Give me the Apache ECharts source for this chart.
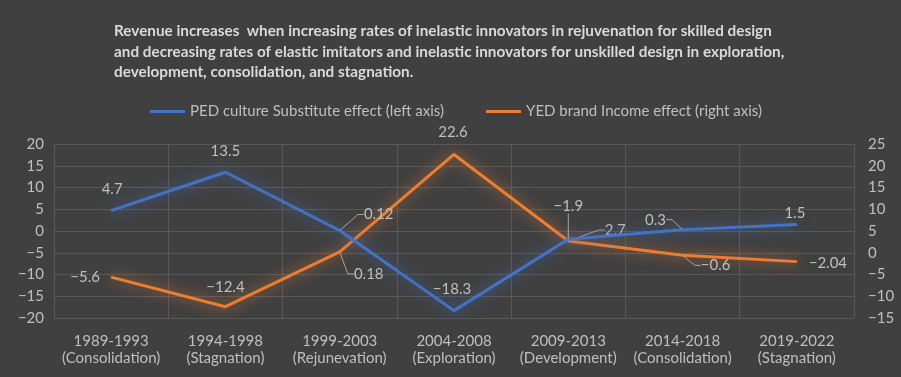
<!DOCTYPE html>
<html>
<head>
<meta charset="utf-8">
<script src="https://cdn.jsdelivr.net/npm/echarts@6/dist/echarts.min.js"></script>
<style>
html,body{margin:0;padding:0;background:#404040;}
#chart{width:901px;height:377px;}
</style>
</head>
<body>
<div id="chart"></div>
<script>
// ---- data ----
const categories = [
  "1989-1993\n(Consolidation)",
  "1994-1998\n(Stagnation)",
  "1999-2003\n(Rejunevation)",
  "2004-2008\n(Exploration)",
  "2009-2013\n(Development)",
  "2014-2018\n(Consolidation)",
  "2019-2022\n(Stagnation)"
];
const pedName = "PED culture Substitute effect (left axis)";
const yedName = "YED brand Income effect (right axis)";
const pedValues = [4.7, 13.5, 0.12, -18.3, -1.9, 0.3, 1.5];
const yedValues = [-5.6, -12.4, 0.18, 22.6, 2.7, -0.6, -2.04];
const leftTicks = { min: -20, max: 20, interval: 5 };
const rightTicks = { min: -15, max: 25, interval: 5 };
const titleLines = [
  "Revenue increases  when increasing rates of inelastic innovators in rejuvenation for skilled design",
  "and decreasing rates of elastic imitators and inelastic innovators for unskilled design in exploration,",
  "development, consolidation, and stagnation."
];

// ---- label placement (offset from point, and whether a leader line is drawn) ----
const pedLabelOffsets = [[1,-21],[0,-21],[39,-16],[-2,-21],[0,-33],[-27,-10],[-2,-11]];
const yedLabelOffsets = [[-26,0],[0,-20],[29,22],[-1,-22],[47,-11],[33,10],[31,2]];
const pedLeader = [false,false,true,false,true,true,false];
const yedLeader = [false,false,true,false,true,true,false];

const FONT = "Lato, 'Open Sans', sans-serif";
const TXT = "#bfbfbf";
const minus = v => String(v).replace('-', '\u2212');

function makeData(values, leaders) {
  return values.map((v, i) => ({
    value: v,
    labelLine: { show: leaders[i], length2: 6, lineStyle: { color: '#a6a6a6', width: 1 } }
  }));
}
let chart;
function layoutFn(seriesIndex, values, offsets) {
  return function (p) {
    const i = p.dataIndex;
    const o = offsets[i];
    const pt = chart.convertToPixel({ seriesIndex: seriesIndex }, [i, values[i]]);
    return { x: pt[0] + o[0], y: pt[1] + o[1], align: 'center', verticalAlign: 'middle' };
  };
}
const labelCfg = {
  show: true, position: 'top', color: TXT, fontSize: 15, fontFamily: FONT,
  formatter: p => minus(p.value)
};

chart = echarts.init(document.getElementById('chart'), null, { renderer: 'canvas' });
chart.setOption({
  backgroundColor: '#404040',
  animation: false,
  title: {
    text: titleLines.join('\n'),
    left: 109, top: 16,
    textStyle: { color: '#d9d9d9', fontSize: 15.3, fontWeight: 'bold', fontFamily: FONT, lineHeight: 20.5 }
  },
  legend: {
    top: 99, left: 145, itemGap: 42,
    icon: 'rect', itemWidth: 35, itemHeight: 3,
    textStyle: { color: TXT, fontSize: 15, fontFamily: FONT },
    data: [pedName, yedName]
  },
  grid: { left: 54, right: 47, top: 144, bottom: 59, containLabel: false },
  xAxis: {
    type: 'category', data: categories, boundaryGap: true,
    axisLine: { show: false }, axisTick: { show: false },
    splitLine: { show: true, lineStyle: { color: '#595959', width: 1 } },
    axisLabel: { color: TXT, fontSize: 15, fontFamily: FONT, lineHeight: 17, margin: 15, interval: 0 }
  },
  yAxis: [
    {
      type: 'value', min: leftTicks.min, max: leftTicks.max, interval: leftTicks.interval,
      axisLine: { show: false }, axisTick: { show: false },
      splitLine: { lineStyle: { color: '#595959', width: 1 } },
      axisLabel: { color: TXT, fontSize: 15, fontFamily: FONT, margin: 10, formatter: minus }
    },
    {
      type: 'value', min: rightTicks.min, max: rightTicks.max, interval: rightTicks.interval,
      axisLine: { show: false }, axisTick: { show: false },
      splitLine: { show: false },
      axisLabel: { color: TXT, fontSize: 15, fontFamily: FONT, margin: 14, formatter: minus }
    }
  ],
  series: [
    {
      name: pedName, type: 'line', yAxisIndex: 0,
      data: makeData(pedValues, pedLeader),
      symbol: 'circle', symbolSize: 1,
      itemStyle: { color: '#4472c4' },
      lineStyle: { color: '#4472c4', width: 3, shadowBlur: 14, shadowColor: 'rgba(68,114,196,0.9)' },
      label: labelCfg,
      labelLayout: layoutFn(0, pedValues, pedLabelOffsets),
      z: 3
    },
    {
      name: yedName, type: 'line', yAxisIndex: 1,
      data: makeData(yedValues, yedLeader),
      symbol: 'circle', symbolSize: 1,
      itemStyle: { color: '#ed7d31' },
      lineStyle: { color: '#ed7d31', width: 3, shadowBlur: 14, shadowColor: 'rgba(237,125,49,0.9)' },
      label: labelCfg,
      labelLayout: layoutFn(1, yedValues, yedLabelOffsets),
      z: 2
    }
  ]
});
</script>
</body>
</html>
